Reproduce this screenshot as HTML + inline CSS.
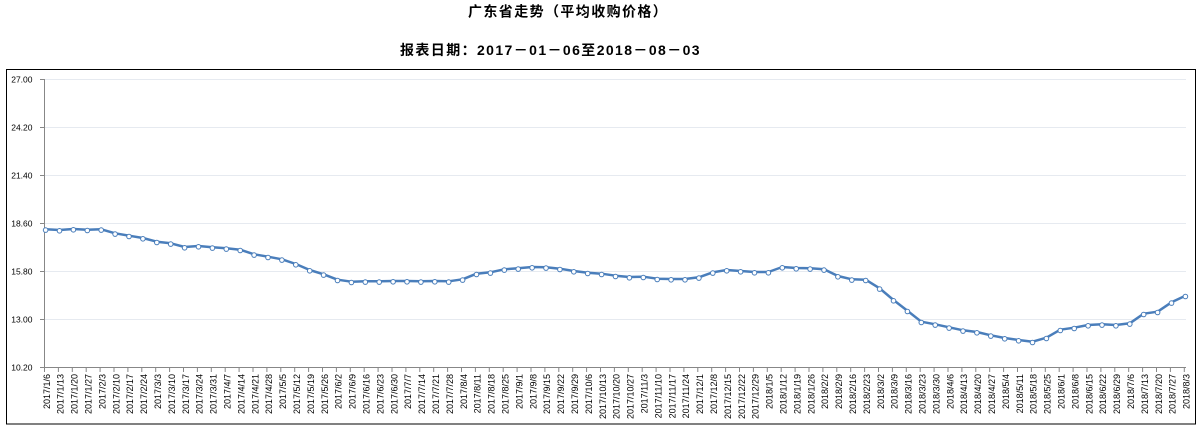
<!DOCTYPE html>
<html>
<head>
<meta charset="utf-8">
<style>
html,body{margin:0;padding:0;background:#fff;}
body{width:1201px;height:431px;overflow:hidden;}
svg{display:block;}
</style>
</head>
<body>
<svg width="1201" height="431" viewBox="0 0 1201 431" xmlns="http://www.w3.org/2000/svg">
<defs>
<marker id="m" markerWidth="10" markerHeight="10" refX="5" refY="4.2" markerUnits="userSpaceOnUse" style="overflow:visible">
<circle cx="5" cy="5" r="2.3" fill="#fff" stroke="#4A7EBB" stroke-width="1"/>
</marker>
</defs>
<rect x="0" y="0" width="1201" height="431" fill="#fff"/>
<!-- titles -->
<text x="468" y="16.5" font-family="'Liberation Sans','Noto Sans CJK SC',sans-serif" font-weight="bold" font-size="14" letter-spacing="1.4" fill="#000">广东省走势（平均收购价格）</text>
<text x="400" y="55" font-family="'Liberation Sans','Noto Sans CJK SC',sans-serif" font-weight="bold" font-size="14" letter-spacing="1.4" fill="#000">报表日期：2017－01－06至2018－08－03</text>
<!-- chart border -->
<rect x="6.5" y="69.5" width="1189" height="354.5" fill="none" stroke="#000" stroke-width="1"/>
<!-- gridlines -->
<g stroke="#E6EAF0" stroke-width="1">
<line x1="44" y1="79.5" x2="1186" y2="79.5"/>
<line x1="44" y1="127.5" x2="1186" y2="127.5"/>
<line x1="44" y1="175.5" x2="1186" y2="175.5"/>
<line x1="44" y1="223.5" x2="1186" y2="223.5"/>
<line x1="44" y1="271.5" x2="1186" y2="271.5"/>
<line x1="44" y1="319.5" x2="1186" y2="319.5"/>
</g>
<!-- axes -->
<g stroke="#878787" stroke-width="1" fill="none">
<line x1="44.5" y1="79" x2="44.5" y2="367.5"/>
<line x1="44" y1="367.5" x2="1186" y2="367.5"/>
<path d="M40,79.5H44M40,127.5H44M40,175.5H44M40,223.5H44M40,271.5H44M40,319.5H44M40,367.5H44"/>
<path d="M44.5,367V372M58.4,367V372M72.3,367V372M86.2,367V372M100.1,367V372M114,367V372M127.9,367V372M141.8,367V372M155.7,367V372M169.6,367V372M183.5,367V372M197.4,367V372M211.3,367V372M225.2,367V372M239.1,367V372M253,367V372M266.9,367V372M280.8,367V372M294.7,367V372M308.6,367V372M322.5,367V372M336.4,367V372M350.3,367V372M364.2,367V372M378.1,367V372M392,367V372M405.9,367V372M419.8,367V372M433.7,367V372M447.6,367V372M461.5,367V372M475.4,367V372M489.3,367V372M503.2,367V372M517.1,367V372M531,367V372M544.9,367V372M558.8,367V372M572.7,367V372M586.6,367V372M600.5,367V372M614.4,367V372M628.3,367V372M642.2,367V372M656.1,367V372M670,367V372M683.9,367V372M697.8,367V372M711.7,367V372M725.6,367V372M739.5,367V372M753.4,367V372M767.3,367V372M781.2,367V372M795.1,367V372M809,367V372M822.9,367V372M836.8,367V372M850.7,367V372M864.6,367V372M878.5,367V372M892.4,367V372M906.3,367V372M920.2,367V372M934.1,367V372M948,367V372M961.9,367V372M975.8,367V372M989.7,367V372M1003.6,367V372M1017.5,367V372M1031.4,367V372M1045.3,367V372M1059.2,367V372M1073.1,367V372M1087,367V372M1100.9,367V372M1114.8,367V372M1128.7,367V372M1142.6,367V372M1156.5,367V372M1170.4,367V372M1184.3,367V372"/>
</g>
<!-- y labels -->
<g font-family="'Liberation Sans',sans-serif" font-size="8.5" fill="#000" text-anchor="end">
<text x="32.5" y="82.5">27.00</text>
<text x="32.5" y="130.5">24.20</text>
<text x="32.5" y="178.5">21.40</text>
<text x="32.5" y="226.5">18.60</text>
<text x="32.5" y="274.5">15.80</text>
<text x="32.5" y="322.5">13.00</text>
<text x="32.5" y="370.5">10.20</text>
</g>
<!-- x labels (rotated) -->
<g transform="rotate(-90)" font-family="'Liberation Sans',sans-serif" font-size="9" fill="#000" text-anchor="end">
<text x="-374" y="49.8">2017/1/6</text>
<text x="-374" y="63.7">2017/1/13</text>
<text x="-374" y="77.6">2017/1/20</text>
<text x="-374" y="91.5">2017/1/27</text>
<text x="-374" y="105.4">2017/2/3</text>
<text x="-374" y="119.3">2017/2/10</text>
<text x="-374" y="133.2">2017/2/17</text>
<text x="-374" y="147.1">2017/2/24</text>
<text x="-374" y="161">2017/3/3</text>
<text x="-374" y="174.9">2017/3/10</text>
<text x="-374" y="188.8">2017/3/17</text>
<text x="-374" y="202.7">2017/3/24</text>
<text x="-374" y="216.6">2017/3/31</text>
<text x="-374" y="230.5">2017/4/7</text>
<text x="-374" y="244.4">2017/4/14</text>
<text x="-374" y="258.3">2017/4/21</text>
<text x="-374" y="272.2">2017/4/28</text>
<text x="-374" y="286.1">2017/5/5</text>
<text x="-374" y="300">2017/5/12</text>
<text x="-374" y="313.9">2017/5/19</text>
<text x="-374" y="327.8">2017/5/26</text>
<text x="-374" y="341.7">2017/6/2</text>
<text x="-374" y="355.6">2017/6/9</text>
<text x="-374" y="369.5">2017/6/16</text>
<text x="-374" y="383.4">2017/6/23</text>
<text x="-374" y="397.3">2017/6/30</text>
<text x="-374" y="411.2">2017/7/7</text>
<text x="-374" y="425.1">2017/7/14</text>
<text x="-374" y="439">2017/7/21</text>
<text x="-374" y="452.9">2017/7/28</text>
<text x="-374" y="466.8">2017/8/4</text>
<text x="-374" y="480.7">2017/8/11</text>
<text x="-374" y="494.6">2017/8/18</text>
<text x="-374" y="508.5">2017/8/25</text>
<text x="-374" y="522.4">2017/9/1</text>
<text x="-374" y="536.3">2017/9/8</text>
<text x="-374" y="550.2">2017/9/15</text>
<text x="-374" y="564.1">2017/9/22</text>
<text x="-374" y="578">2017/9/29</text>
<text x="-374" y="591.9">2017/10/6</text>
<text x="-374" y="605.8">2017/10/13</text>
<text x="-374" y="619.7">2017/10/20</text>
<text x="-374" y="633.6">2017/10/27</text>
<text x="-374" y="647.5">2017/11/3</text>
<text x="-374" y="661.4">2017/11/10</text>
<text x="-374" y="675.3">2017/11/17</text>
<text x="-374" y="689.2">2017/11/24</text>
<text x="-374" y="703.1">2017/12/1</text>
<text x="-374" y="717">2017/12/8</text>
<text x="-374" y="730.9">2017/12/15</text>
<text x="-374" y="744.8">2017/12/22</text>
<text x="-374" y="758.7">2017/12/29</text>
<text x="-374" y="772.6">2018/1/5</text>
<text x="-374" y="786.5">2018/1/12</text>
<text x="-374" y="800.4">2018/1/19</text>
<text x="-374" y="814.3">2018/1/26</text>
<text x="-374" y="828.2">2018/2/2</text>
<text x="-374" y="842.1">2018/2/9</text>
<text x="-374" y="856">2018/2/16</text>
<text x="-374" y="869.9">2018/2/23</text>
<text x="-374" y="883.8">2018/3/2</text>
<text x="-374" y="897.7">2018/3/9</text>
<text x="-374" y="911.6">2018/3/16</text>
<text x="-374" y="925.5">2018/3/23</text>
<text x="-374" y="939.4">2018/3/30</text>
<text x="-374" y="953.3">2018/4/6</text>
<text x="-374" y="967.2">2018/4/13</text>
<text x="-374" y="981.1">2018/4/20</text>
<text x="-374" y="995">2018/4/27</text>
<text x="-374" y="1008.9">2018/5/4</text>
<text x="-374" y="1022.8">2018/5/11</text>
<text x="-374" y="1036.7">2018/5/18</text>
<text x="-374" y="1050.6">2018/5/25</text>
<text x="-374" y="1064.5">2018/6/1</text>
<text x="-374" y="1078.4">2018/6/8</text>
<text x="-374" y="1092.3">2018/6/15</text>
<text x="-374" y="1106.2">2018/6/22</text>
<text x="-374" y="1120.1">2018/6/29</text>
<text x="-374" y="1134">2018/7/6</text>
<text x="-374" y="1147.9">2018/7/13</text>
<text x="-374" y="1161.8">2018/7/20</text>
<text x="-374" y="1175.7">2018/7/27</text>
<text x="-374" y="1189.6">2018/8/3</text>
</g>
<!-- series -->
<polyline fill="none" stroke="#4A7EBB" stroke-width="2.5" stroke-linejoin="round" stroke-linecap="round" marker-start="url(#m)" marker-mid="url(#m)" marker-end="url(#m)"
points="45.6,229.3 59.5,230 73.4,229 87.3,229.7 101.2,229.3 115.1,233.3 129,235.7 142.9,238 156.8,241.7 170.7,243.3 184.6,247 198.5,246 212.4,247.3 226.3,248.3 240.2,249.7 254.1,254.3 268,256.7 281.9,259.3 295.8,264 309.7,270 323.6,274.3 337.5,279.7 351.4,281.7 365.3,281.3 379.2,281.3 393.1,281 407,281 420.9,281.3 434.8,281 448.7,281.3 462.6,279.3 476.5,273.7 490.4,272.3 504.3,269.3 518.2,268.3 532.1,267 546,267.3 559.9,268.7 573.8,271 587.7,272.7 601.6,273.7 615.5,275.7 629.4,277 643.3,276.7 657.2,278.7 671.1,279 685,279 698.9,277.3 712.8,272.3 726.7,270 740.6,271 754.5,272 768.4,272 782.3,267 796.2,268 810.1,268.3 824,269.3 837.9,276 851.8,279.3 865.7,279.7 879.6,288.3 893.5,300 907.4,310.7 921.3,321.7 935.2,324.3 949.1,327.3 963,330.3 976.9,332 990.8,335.3 1004.7,338 1018.6,340 1032.5,341.7 1046.4,337.7 1060.3,329.7 1074.2,327.7 1088.1,325 1102,324.3 1115.9,325 1129.8,323.3 1143.7,313.7 1157.6,311.7 1171.5,302.3 1185.4,295.7"/>
</svg>
</body>
</html>
